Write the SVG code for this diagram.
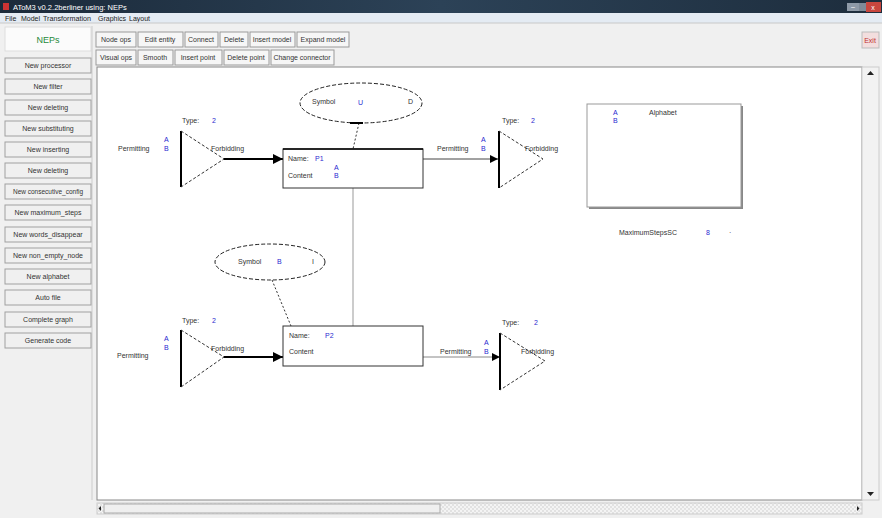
<svg xmlns="http://www.w3.org/2000/svg" width="882" height="518" viewBox="0 0 882 518">
<defs>
<linearGradient id="tb" x1="0" y1="0" x2="1" y2="0">
<stop offset="0" stop-color="#1b2a3a"/><stop offset="0.5" stop-color="#2c4257"/><stop offset="1" stop-color="#1d2d3d"/>
</linearGradient>
<pattern id="chk" width="4" height="4" patternUnits="userSpaceOnUse">
<rect width="4" height="4" fill="#f4f4f4"/><rect width="2" height="2" fill="#e2e2e2"/><rect x="2" y="2" width="2" height="2" fill="#e2e2e2"/>
</pattern>
<marker id="ah" viewBox="0 0 10 10" refX="10" refY="5" markerWidth="10" markerHeight="10" orient="auto" markerUnits="userSpaceOnUse">
<path d="M0,0 L10,5 L0,10 z" fill="#000"/>
</marker>
<marker id="ah2" viewBox="0 0 10 10" refX="10" refY="5" markerWidth="8" markerHeight="8" orient="auto" markerUnits="userSpaceOnUse">
<path d="M0,0 L10,5 L0,10 z" fill="#000"/>
</marker>
</defs>
<style>
text{font-family:"Liberation Sans",Arial,sans-serif;font-size:7px;fill:#333}
.blue{fill:#2a2ad0}
.btn{fill:#f0f0f0;stroke:#a0a0a0;stroke-width:1}
.btl{font-size:7px;fill:#333;text-anchor:middle}
.tb{fill:#f6f6f6;stroke:#9a9a9a;stroke-width:1}
.solid{stroke:#000;stroke-width:2;fill:none}
.dash{stroke:#333;stroke-width:1;stroke-dasharray:3,2;fill:none}
.ell{fill:#fff;stroke:#222;stroke-width:1;stroke-dasharray:4,2}
.box{fill:#fff;stroke:#333;stroke-width:1}
.menu{font-size:7px;fill:#222}
</style>
<!-- window chrome -->
<rect x="0" y="0" width="882" height="518" fill="#f0f0f0"/>
<rect x="0" y="0" width="882" height="13" fill="url(#tb)"/>
<rect x="3" y="3" width="6" height="7" fill="#c33"/>
<text x="13" y="10" style="fill:#fff;font-size:7.5px">AToM3 v0.2.2berliner using: NEPs</text>
<rect x="847" y="3" width="12" height="8" fill="#8e9aa8"/>
<rect x="859" y="3" width="8" height="8" fill="#7e8a98"/>
<rect x="866" y="2" width="15" height="10" fill="#c8463e"/>
<text x="873" y="10" style="fill:#fff;font-size:7px" text-anchor="middle">x</text>
<text x="851" y="9" style="fill:#fff;font-size:7px">–</text>
<rect x="0" y="13" width="882" height="10" fill="#e4ebf3"/>
<text x="5" y="21" class="menu">File</text>
<text x="21" y="21" class="menu">Model</text>
<text x="43" y="21" class="menu" textLength="48" lengthAdjust="spacingAndGlyphs">Transformation</text>
<text x="98" y="21" class="menu">Graphics</text>
<text x="129" y="21" class="menu">Layout</text>
<line x1="0" y1="23" x2="882" y2="23" stroke="#c8c8c8"/>

<!-- left panel -->
<g id="left-panel">
<rect x="5" y="27" width="86" height="24" fill="#fbfbfb" stroke="#ddd"/>
<text x="48" y="43" style="font-size:9px;fill:#1f8a3a" text-anchor="middle">NEPs</text>
<line x1="92" y1="26" x2="92" y2="500" stroke="#ccc"/>
<g id="btn-processor"><rect class="btn" x="5" y="58" width="86" height="15"/><text class="btl" x="48" y="68">New processor</text></g>
<g id="btn-filter"><rect class="btn" x="5" y="79" width="86" height="15"/><text class="btl" x="48" y="89">New filter</text></g>
<g id="btn-deleting1"><rect class="btn" x="5" y="100" width="86" height="15"/><text class="btl" x="48" y="110">New deleting</text></g>
<g id="btn-substituting"><rect class="btn" x="5" y="121" width="86" height="15"/><text class="btl" x="48" y="131">New substituting</text></g>
<g id="btn-inserting"><rect class="btn" x="5" y="142" width="86" height="15"/><text class="btl" x="48" y="152">New inserting</text></g>
<g id="btn-deleting2"><rect class="btn" x="5" y="163" width="86" height="15"/><text class="btl" x="48" y="173">New deleting</text></g>
<g id="btn-consecutive"><rect class="btn" x="5" y="184" width="86" height="15"/><text class="btl" x="48" y="194" style="font-size:6.5px">New consecutive_config</text></g>
<g id="btn-maxsteps"><rect class="btn" x="5" y="205" width="86" height="15"/><text class="btl" x="48" y="215">New maximum_steps</text></g>
<g id="btn-words"><rect class="btn" x="5" y="227" width="86" height="15"/><text class="btl" x="48" y="237">New words_disappear</text></g>
<g id="btn-nonempty"><rect class="btn" x="5" y="248" width="86" height="15"/><text class="btl" x="48" y="258">New non_empty_node</text></g>
<g id="btn-alphabet"><rect class="btn" x="5" y="269" width="86" height="15"/><text class="btl" x="48" y="279">New alphabet</text></g>
<g id="btn-autofile"><rect class="btn" x="5" y="290" width="86" height="15"/><text class="btl" x="48" y="300">Auto file</text></g>
<g id="btn-complete"><rect class="btn" x="5" y="312" width="86" height="15"/><text class="btl" x="48" y="322">Complete graph</text></g>
<g id="btn-generate"><rect class="btn" x="5" y="333" width="86" height="15"/><text class="btl" x="48" y="343">Generate code</text></g>
</g>

<!-- toolbar -->
<g id="toolbar">
<rect class="tb" x="96" y="32" width="40" height="15"/><text class="btl" x="116" y="42">Node ops</text>
<rect class="tb" x="138" y="32" width="45" height="15"/><text class="btl" x="160" y="42">Edit entity</text>
<rect class="tb" x="185" y="32" width="33" height="15"/><text class="btl" x="201" y="42">Connect</text>
<rect class="tb" x="220" y="32" width="28" height="15"/><text class="btl" x="234" y="42">Delete</text>
<rect class="tb" x="250" y="32" width="45" height="15"/><text class="btl" x="272" y="42">Insert model</text>
<rect class="tb" x="297" y="32" width="52" height="15"/><text class="btl" x="323" y="42">Expand model</text>
<rect class="tb" x="96" y="50" width="40" height="15"/><text class="btl" x="116" y="60">Visual ops</text>
<rect class="tb" x="138" y="50" width="35" height="15"/><text class="btl" x="155" y="60">Smooth</text>
<rect class="tb" x="175" y="50" width="47" height="15"/><text class="btl" x="198" y="60">Insert point</text>
<rect class="tb" x="224" y="50" width="45" height="15"/><text class="btl" x="246" y="60">Delete point</text>
<rect class="tb" x="271" y="50" width="63" height="15"/><text class="btl" x="302" y="60">Change connector</text>
<rect x="862" y="32" width="17" height="16" fill="#f3dede" stroke="#bbb"/>
<text x="870" y="43" style="font-size:7px;fill:#c03030" text-anchor="middle">Exit</text>
</g>

<!-- canvas -->
<rect x="97" y="67" width="765" height="433" fill="#fff" stroke="#888"/>
<rect x="862" y="67" width="17" height="433" fill="#f2f2f2" stroke="#ccc"/>
<path d="M867,75 L874,75 L870.5,71 z" fill="#222"/>
<path d="M867,492 L874,492 L870.5,496 z" fill="#222"/>
<rect x="97" y="503" width="765" height="11" fill="url(#chk)" stroke="#ccc"/>
<rect x="104" y="504" width="336" height="9" fill="#efefef" stroke="#aaa"/>
<path d="M101,506 L101,511 L98.5,508.5 z" fill="#222"/>
<path d="M857,506 L857,511 L859.5,508.5 z" fill="#222"/>

<!-- connectors -->
<g id="connectors">
<line x1="224" y1="159" x2="283" y2="159" stroke="#000" stroke-width="2" marker-end="url(#ah)"/>
<line x1="423" y1="159" x2="498" y2="159" stroke="#444" stroke-width="1" marker-end="url(#ah2)"/>
<line x1="224" y1="357" x2="283" y2="357" stroke="#000" stroke-width="2" marker-end="url(#ah)"/>
<line x1="423" y1="357" x2="500" y2="357" stroke="#888" stroke-width="1" marker-end="url(#ah2)"/>
<line x1="353" y1="188" x2="353" y2="326" stroke="#999" stroke-width="1"/>
<line x1="359" y1="123" x2="353" y2="149" stroke="#333" stroke-dasharray="2,2"/>
<line x1="272" y1="280" x2="291" y2="326" stroke="#333" stroke-dasharray="2,2"/>
<text x="437" y="151">Permitting</text><text x="481" y="142" class="blue">A</text><text x="481" y="151" class="blue">B</text>
<text x="440" y="354">Permitting</text><text x="484" y="345" class="blue">A</text><text x="484" y="354" class="blue">B</text>
</g>

<!-- top-left filter -->
<g id="filter-in-1">
<text x="182" y="123">Type:</text><text x="212" y="123" class="blue">2</text>
<text x="118" y="151">Permitting</text><text x="164" y="142" class="blue">A</text><text x="164" y="151" class="blue">B</text>
<line x1="181" y1="131" x2="181" y2="187" class="solid"/>
<path d="M181,131 L224,159 L181,187" class="dash"/>
<text x="211" y="151">Forbidding</text>
</g>

<!-- symbol U -->
<g id="symbol-1">
<ellipse cx="361" cy="103" rx="61" ry="20" class="ell"/>
<line x1="350" y1="123" x2="363" y2="123" stroke="#000" stroke-width="2"/>
<text x="312" y="104">Symbol</text><text x="358" y="105" class="blue">U</text><text x="408" y="104">D</text>
</g>

<!-- processor P1 -->
<g id="processor-p1">
<rect x="283" y="149" width="140" height="39" class="box"/>
<line x1="283" y1="149" x2="423" y2="149" stroke="#000" stroke-width="1.5"/>
<text x="288" y="161">Name:</text><text x="315" y="161" class="blue">P1</text>
<text x="334" y="170" class="blue">A</text><text x="334" y="178" class="blue">B</text>
<text x="288" y="178">Content</text>
</g>

<!-- top-right filter -->
<g id="filter-out-1">
<text x="502" y="123">Type:</text><text x="531" y="123" class="blue">2</text>
<line x1="499" y1="131" x2="499" y2="188" class="solid"/>
<path d="M499,131 L543,159 L499,188" class="dash"/>
<text x="525" y="151">Forbidding</text>
</g>

<!-- alphabet -->
<g id="alphabet">
<rect x="589" y="106" width="154" height="103" fill="#888"/>
<rect x="587" y="104" width="154" height="103" fill="#fff" stroke="#999"/>
<text x="613" y="115" class="blue">A</text><text x="613" y="123" class="blue">B</text>
<text x="649" y="115">Alphabet</text>
</g>

<!-- maximum steps -->
<g id="max-steps">
<text x="619" y="235">MaximumStepsSC</text><text x="706" y="235" class="blue">8</text><text x="729" y="235">·</text>
</g>

<!-- symbol B -->
<g id="symbol-2">
<ellipse cx="270" cy="262" rx="55" ry="18" class="ell"/>
<text x="238" y="264">Symbol</text><text x="277" y="264" class="blue">B</text><text x="312" y="264">I</text>
</g>

<!-- bottom-left filter -->
<g id="filter-in-2">
<text x="182" y="323">Type:</text><text x="212" y="323" class="blue">2</text>
<text x="117" y="358">Permitting</text><text x="164" y="341" class="blue">A</text><text x="164" y="350" class="blue">B</text>
<line x1="181" y1="330" x2="181" y2="387" class="solid"/>
<path d="M181,330 L224,357 L181,387" class="dash"/>
<text x="211" y="351">Forbidding</text>
</g>

<!-- processor P2 -->
<g id="processor-p2">
<rect x="283" y="326" width="140" height="40" class="box"/>
<text x="289" y="338">Name:</text><text x="325" y="338" class="blue">P2</text>
<text x="289" y="354">Content</text>
</g>

<!-- bottom-right filter -->
<g id="filter-out-2">
<text x="502" y="325">Type:</text><text x="534" y="325" class="blue">2</text>
<line x1="500" y1="333" x2="500" y2="390" class="solid"/>
<path d="M500,333 L545,361 L500,390" class="dash"/>
<text x="521" y="354">Forbidding</text>
</g>
</svg>
